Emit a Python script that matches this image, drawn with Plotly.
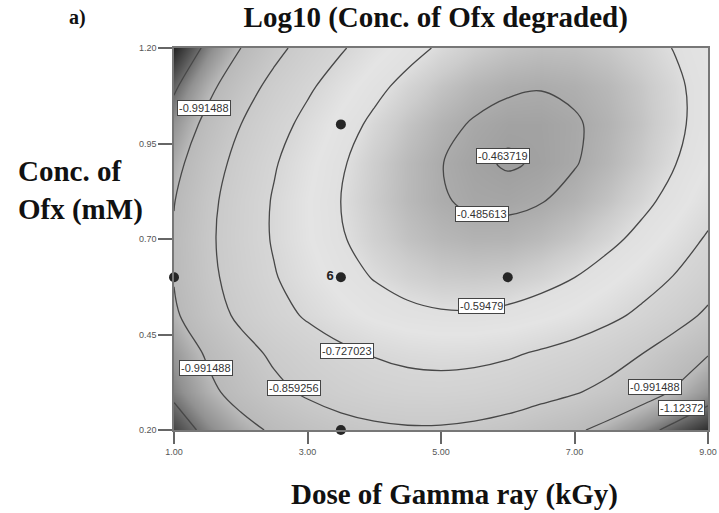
import plotly.graph_objects as go

# Response surface: Log10 of degraded Ofx concentration
dose_kgy = [1.0, 1.5, 2.0, 2.5, 3.0, 3.5, 4.0, 4.5, 5.0, 5.5, 6.0, 6.5, 7.0, 7.5, 8.0, 8.5, 9.0]
conc_mm = [0.20, 0.30, 0.40, 0.50, 0.60, 0.70, 0.80, 0.90, 1.00, 1.10, 1.20]
log_degraded = [
    [-1.177, -1.098, -1.030, -0.975, -0.933, -0.902, -0.882, -0.872, -0.873, -0.885, -0.908, -0.941, -0.974, -1.025, -1.088, -1.153, -1.210],
    [-1.103, -1.020, -0.948, -0.888, -0.842, -0.807, -0.783, -0.769, -0.766, -0.774, -0.792, -0.821, -0.850, -0.890, -0.939, -1.001, -1.074],
    [-1.066, -0.979, -0.903, -0.839, -0.789, -0.750, -0.721, -0.703, -0.696, -0.700, -0.714, -0.739, -0.767, -0.806, -0.857, -0.922, -0.986],
    [-1.008, -0.916, -0.836, -0.768, -0.714, -0.670, -0.637, -0.615, -0.604, -0.603, -0.613, -0.634, -0.662, -0.700, -0.749, -0.810, -0.881],
    [-0.986, -0.890, -0.806, -0.734, -0.675, -0.627, -0.590, -0.564, -0.548, -0.544, -0.549, -0.566, -0.594, -0.632, -0.676, -0.732, -0.801],
    [-0.982, -0.882, -0.794, -0.717, -0.654, -0.602, -0.561, -0.530, -0.511, -0.502, -0.503, -0.516, -0.539, -0.573, -0.618, -0.673, -0.739],
    [-0.995, -0.891, -0.798, -0.718, -0.651, -0.594, -0.549, -0.514, -0.490, -0.477, -0.475, -0.483, -0.502, -0.532, -0.572, -0.623, -0.685],
    [-1.026, -0.917, -0.821, -0.736, -0.665, -0.604, -0.554, -0.515, -0.487, -0.470, -0.4605, -0.467, -0.482, -0.508, -0.544, -0.591, -0.649],
    [-1.074, -0.961, -0.860, -0.771, -0.696, -0.631, -0.577, -0.534, -0.502, -0.480, -0.469, -0.469, -0.480, -0.501, -0.533, -0.576, -0.630],
    [-1.139, -1.023, -0.917, -0.824, -0.745, -0.676, -0.618, -0.570, -0.534, -0.508, -0.493, -0.488, -0.495, -0.512, -0.540, -0.579, -0.628],
    [-1.222, -1.101, -0.992, -0.894, -0.811, -0.738, -0.675, -0.624, -0.583, -0.553, -0.534, -0.525, -0.527, -0.540, -0.564, -0.598, -0.644],
]

contour_levels = [-1.12372, -0.991488, -0.859256, -0.727023, -0.59479, -0.485613, -0.463719]

# Design points (dose, concentration) and replicate counts
design_dose = [1.0, 3.5, 3.5, 6.0, 3.5]
design_conc = [0.60, 1.00, 0.60, 0.60, 0.20]
design_reps = ["", "", "6", "", ""]

x_ticks = [1.0, 3.0, 5.0, 7.0, 9.0]
y_ticks = [0.20, 0.45, 0.70, 0.95, 1.20]

# Where each contour value label sits: (level, dose, conc)
label_spots = [
    (-0.991488, 1.45, 1.042),
    (-0.463719, 5.93, 0.916),
    (-0.485613, 5.61, 0.766),
    (-0.59479, 5.61, 0.524),
    (-0.727023, 3.59, 0.408),
    (-0.859256, 2.80, 0.311),
    (-0.991488, 1.48, 0.363),
    (-0.991488, 8.21, 0.313),
    (-1.12372, 8.61, 0.258),
]

gray_scale = [
    [0.000, "rgb(30,30,30)"],
    [0.104, "rgb(90,90,90)"],
    [0.195, "rgb(145,145,145)"],
    [0.299, "rgb(184,184,184)"],
    [0.481, "rgb(202,202,202)"],
    [0.649, "rgb(214,214,214)"],
    [0.753, "rgb(228,228,228)"],
    [0.818, "rgb(224,224,224)"],
    [0.883, "rgb(204,204,204)"],
    [0.948, "rgb(178,178,178)"],
    [1.000, "rgb(158,158,158)"],
]

fig = go.Figure()

fig.add_trace(go.Heatmap(
    x=dose_kgy, y=conc_mm, z=log_degraded,
    zmin=-1.23, zmax=-0.46, colorscale=gray_scale,
    zsmooth="best", showscale=False, hoverinfo="skip",
))

for lvl in contour_levels:
    fig.add_trace(go.Contour(
        x=dose_kgy, y=conc_mm, z=log_degraded,
        autocontour=False,
        contours=dict(start=lvl, end=lvl, size=1, coloring="none"),
        line=dict(color="#474747", width=1.3, smoothing=1.0),
        showscale=False, hoverinfo="skip",
    ))

fig.add_trace(go.Scatter(
    x=design_dose, y=design_conc, mode="markers+text",
    text=design_reps, textposition="middle left",
    textfont=dict(family="Liberation Sans", size=13, color="#222", weight="bold"),
    marker=dict(symbol="circle", size=10, color="#262626"),
    cliponaxis=False, hoverinfo="skip", showlegend=False,
))

for lvl, lx, ly in label_spots:
    fig.add_annotation(
        x=lx, y=ly, xref="x", yref="y", text=f"{lvl:g}", showarrow=False,
        font=dict(family="Liberation Sans", size=11, color="#333"),
        bgcolor="white", bordercolor="#444", borderwidth=1, borderpad=1,
    )

serif = "Liberation Serif"
fig.add_annotation(x=-0.18, y=1.081, xref="paper", yref="paper", xanchor="center",
                   yanchor="middle", text="<b>a)</b>", showarrow=False,
                   font=dict(family=serif, size=20, color="#111"))
fig.add_annotation(x=-0.296, y=0.628, xref="paper", yref="paper", xanchor="left",
                   yanchor="middle", align="left", text="<b>Conc. of<br>Ofx (mM)</b>",
                   showarrow=False, font=dict(family=serif, size=29, color="#111"))
fig.add_annotation(x=0.526, y=-0.170, xref="paper", yref="paper", xanchor="center",
                   yanchor="middle", text="<b>Dose of Gamma ray (kGy)</b>", showarrow=False,
                   font=dict(family=serif, size=29, color="#111"))

fig.update_layout(
    width=719, height=513,
    margin=dict(l=174, r=11, t=48, b=83, autoexpand=False),
    paper_bgcolor="white", plot_bgcolor="white",
    showlegend=False,
    title=dict(text="<b>Log10 (Conc. of Ofx degraded)</b>", x=0.606, y=0.967,
               xanchor="center", yanchor="middle",
               font=dict(family=serif, size=29, color="#111")),
    xaxis=dict(range=[1, 9], tickvals=x_ticks, tickformat=".2f", ticks="outside",
               ticklen=12, tickcolor="#666", tickwidth=1.5, showgrid=False, zeroline=False,
               showline=True, linecolor="#777", linewidth=1.5, mirror=True, automargin=False,
               tickfont=dict(family="Liberation Sans", size=9, color="#555")),
    yaxis=dict(range=[0.2, 1.2], tickvals=y_ticks, tickformat=".2f", ticks="outside",
               ticklen=14, tickcolor="#666", tickwidth=1.5, showgrid=False, zeroline=False,
               showline=True, linecolor="#777", linewidth=1.5, mirror=True, automargin=False,
               tickfont=dict(family="Liberation Sans", size=9, color="#555")),
)

fig.write_html("out.html")
